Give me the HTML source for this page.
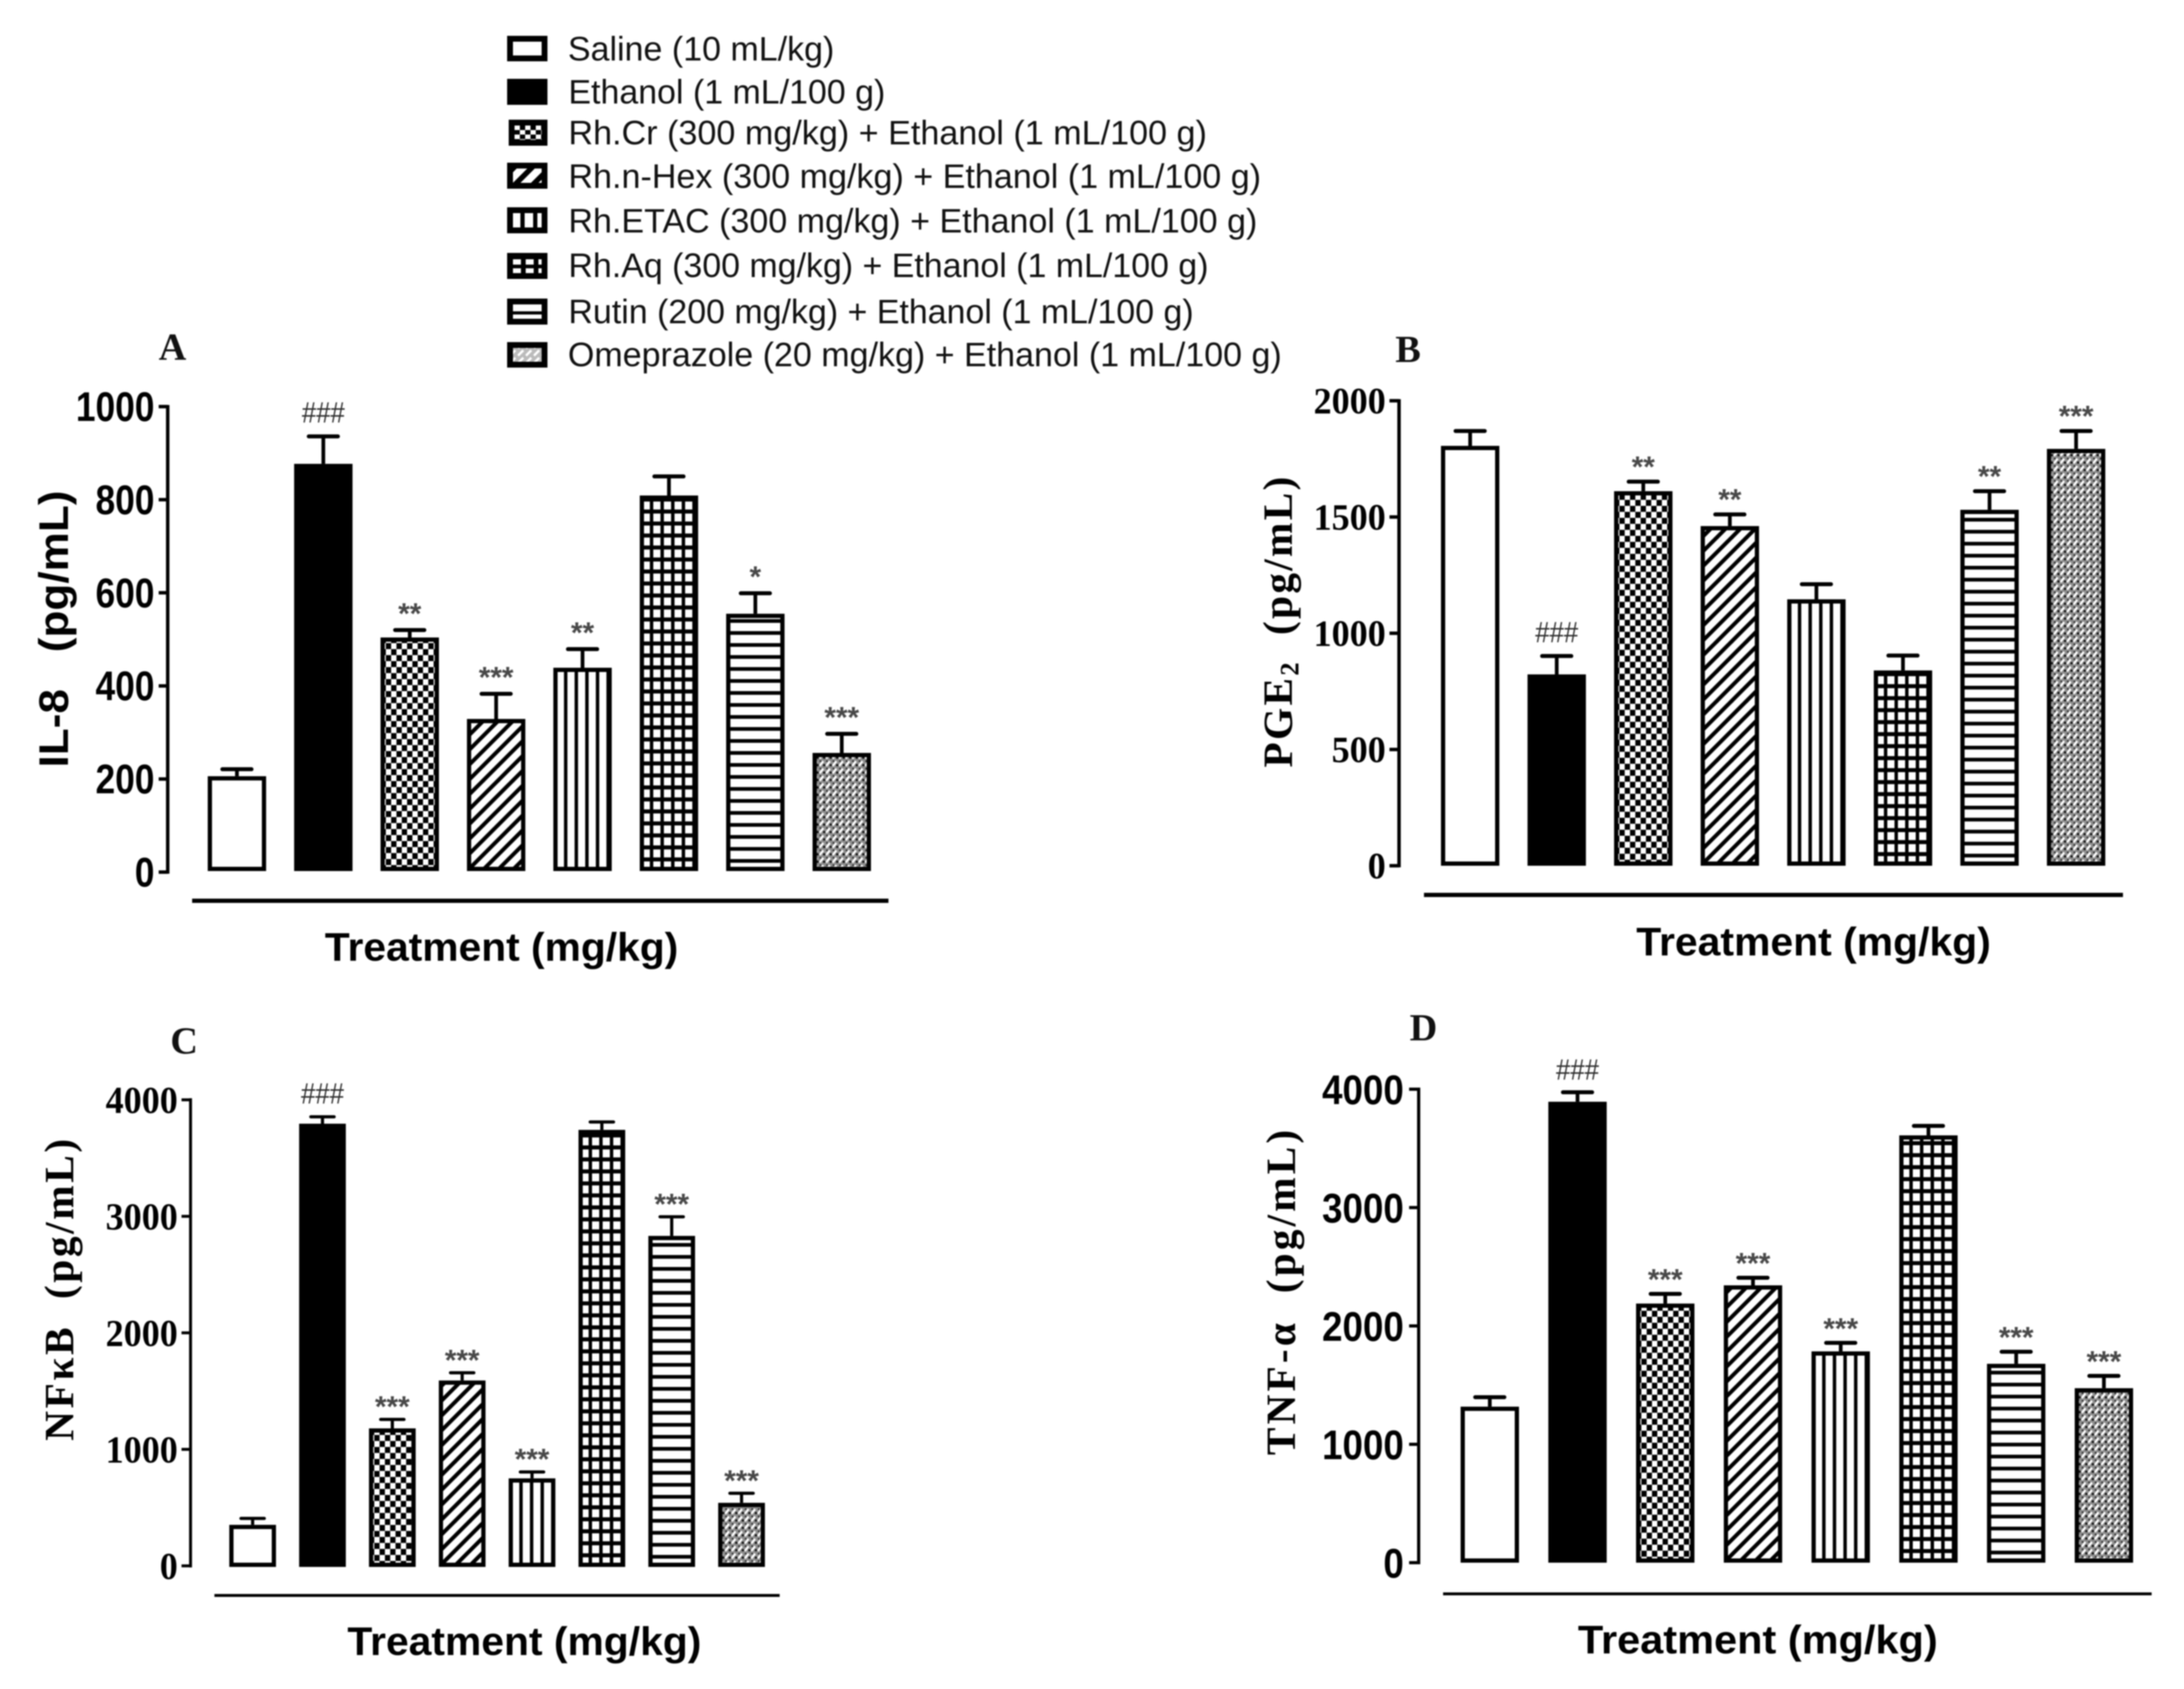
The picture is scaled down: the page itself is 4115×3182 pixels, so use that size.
<!DOCTYPE html>
<html lang="en">
<head>
<meta charset="utf-8">
<title>Cytokine and PGE2 levels by treatment</title>
<style>
html,body{margin:0;padding:0;background:#fff;width:4115px;height:3182px;overflow:hidden}
#figure{display:block;width:4115px;height:3182px;filter:blur(1.3px)}
text{white-space:pre}
.leg{font-family:"Liberation Sans",sans-serif;font-size:64px;fill:#111}
.xt{font-family:"Liberation Sans",sans-serif;font-weight:700;font-size:75px;fill:#000;text-anchor:middle}
.yts{font-family:"Liberation Sans",sans-serif;font-weight:700;font-size:78px;fill:#000;text-anchor:middle}
.ytr{font-family:"Liberation Serif",serif;font-weight:700;font-size:78px;fill:#000;text-anchor:middle}
.pl{font-family:"Liberation Serif",serif;font-weight:700;font-size:72px;fill:#111}
</style>
</head>
<body>
<svg id="figure" xmlns="http://www.w3.org/2000/svg" width="4115" height="3182" viewBox="0 0 4115 3182">
<defs>
<pattern id="pat-checker" patternUnits="userSpaceOnUse" width="20" height="22.6"><rect width="20" height="22.6" fill="#000"/><rect x="0" y="0" width="10" height="11.3" fill="#fff"/><rect x="10" y="11.3" width="10" height="11.3" fill="#fff"/></pattern>
<pattern id="pat-diag" patternUnits="userSpaceOnUse" width="28" height="28"><rect width="28" height="28" fill="#fff"/><path d="M-7 7L7 -7M-7 35L35 -7M21 35L35 21" stroke="#000" stroke-width="7.5"/></pattern>
<pattern id="pat-vert" patternUnits="userSpaceOnUse" width="20" height="20"><rect width="20" height="20" fill="#fff"/><rect x="0" width="6.5" height="20" fill="#000"/></pattern>
<pattern id="pat-grid" patternUnits="userSpaceOnUse" width="20" height="22.6"><rect width="20" height="22.6" fill="#000"/><rect x="5.5" y="4.5" width="13.5" height="15" fill="#fff"/></pattern>
<pattern id="pat-horiz" patternUnits="userSpaceOnUse" width="20" height="22.6"><rect width="20" height="22.6" fill="#fff"/><rect y="0" width="20" height="7" fill="#000"/></pattern>
<pattern id="pat-omep" patternUnits="userSpaceOnUse" width="12.3" height="14"><rect width="12.3" height="14" fill="#8e8e8e"/><path d="M1 12L8 3" stroke="#fff" stroke-width="4"/><circle cx="9.5" cy="10.5" r="2.3" fill="#111"/><circle cx="2.5" cy="3" r="1.6" fill="#222"/></pattern>
<pattern id="leg-checker" patternUnits="userSpaceOnUse" width="20" height="17" patternTransform="translate(969.5,236.5)"><rect width="20" height="17" fill="#000"/><rect x="0" y="0" width="10" height="8.5" fill="#fff"/><rect x="10" y="8.5" width="10" height="8.5" fill="#fff"/></pattern>
<pattern id="leg-diag" patternUnits="userSpaceOnUse" width="34" height="34" patternTransform="translate(966.5,317.5)"><rect width="34" height="34" fill="#fff"/><path d="M-8 8L8 -8M-8 42L42 -8M26 42L42 26" stroke="#000" stroke-width="10"/></pattern>
<pattern id="leg-vert" patternUnits="userSpaceOnUse" width="24" height="20" patternTransform="translate(966.5,401.5)"><rect width="24" height="20" fill="#fff"/><rect x="14" width="8" height="20" fill="#000"/></pattern>
<pattern id="leg-grid" patternUnits="userSpaceOnUse" width="24" height="17" patternTransform="translate(966.5,487.5)"><rect width="24" height="17" fill="#000"/><rect x="0" y="1" width="15" height="10" fill="#fff"/></pattern>
<pattern id="leg-horiz" patternUnits="userSpaceOnUse" width="20" height="20" patternTransform="translate(966.5,573.5)"><rect width="20" height="20" fill="#fff"/><rect y="13" width="20" height="6" fill="#000"/></pattern>
<pattern id="leg-omep" patternUnits="userSpaceOnUse" width="15" height="14"><rect width="15" height="14" fill="#bbb"/><path d="M1 12L11 2" stroke="#fff" stroke-width="4.5"/></pattern>
</defs>

<g id="legend">
  <g>
    <rect x="961" y="73" width="65" height="37" fill="#fff" stroke="#000" stroke-width="11"/>
    <text class="leg" x="1070" y="114" textLength="502" lengthAdjust="spacingAndGlyphs">Saline (10 mL/kg)</text>
  </g>
  <g>
    <rect x="961" y="154" width="65" height="38" fill="#000" stroke="#000" stroke-width="11"/>
    <text class="leg" x="1071" y="195" textLength="597" lengthAdjust="spacingAndGlyphs">Ethanol (1 mL/100 g)</text>
  </g>
  <g>
    <rect x="964" y="231" width="62" height="38" fill="url(#leg-checker)" stroke="#000" stroke-width="11"/>
    <text class="leg" x="1071" y="272" textLength="1203" lengthAdjust="spacingAndGlyphs">Rh.Cr (300 mg/kg) + Ethanol (1 mL/100 g)</text>
  </g>
  <g>
    <rect x="961" y="312" width="65" height="38" fill="url(#leg-diag)" stroke="#000" stroke-width="11"/>
    <text class="leg" x="1071" y="354" textLength="1305" lengthAdjust="spacingAndGlyphs">Rh.n-Hex (300 mg/kg) + Ethanol (1 mL/100 g)</text>
  </g>
  <g>
    <rect x="961" y="396" width="65" height="38" fill="url(#leg-vert)" stroke="#000" stroke-width="11"/>
    <text class="leg" x="1071" y="438" textLength="1298" lengthAdjust="spacingAndGlyphs">Rh.ETAC (300 mg/kg) + Ethanol (1 mL/100 g)</text>
  </g>
  <g>
    <rect x="961" y="482" width="65" height="38" fill="url(#leg-grid)" stroke="#000" stroke-width="11"/>
    <text class="leg" x="1071" y="522" textLength="1206" lengthAdjust="spacingAndGlyphs">Rh.Aq (300 mg/kg) + Ethanol (1 mL/100 g)</text>
  </g>
  <g>
    <rect x="961" y="568" width="65" height="38" fill="url(#leg-horiz)" stroke="#000" stroke-width="11"/>
    <text class="leg" x="1071" y="609" textLength="1178" lengthAdjust="spacingAndGlyphs">Rutin (200 mg/kg) + Ethanol (1 mL/100 g)</text>
  </g>
  <g>
    <rect x="961" y="650" width="65" height="37" fill="url(#leg-omep)" stroke="#000" stroke-width="11"/>
    <text class="leg" x="1070" y="690" textLength="1345" lengthAdjust="spacingAndGlyphs">Omeprazole (20 mg/kg) + Ethanol (1 mL/100 g)</text>
  </g>
</g>

<text class="pl" x="299" y="678">A</text>
<text class="pl" x="2629" y="682">B</text>
<text class="pl" x="321" y="1985">C</text>
<text class="pl" x="2656" y="1960">D</text>

<text class="yts" transform="translate(128,1185) rotate(-90)" textLength="522" lengthAdjust="spacingAndGlyphs">IL-8   (pg/mL)</text>
<text class="ytr" transform="translate(2434,1172) rotate(-90)" textLength="548" lengthAdjust="spacing">PGE<tspan dy="12" font-size="50">2</tspan><tspan dy="-12">  (pg/mL)</tspan></text>
<text class="ytr" transform="translate(138,2430) rotate(-90)" textLength="569" lengthAdjust="spacing">NFκB  (pg/mL)</text>
<text class="ytr" transform="translate(2440,2435) rotate(-90)" textLength="613" lengthAdjust="spacing">TNF-α  (pg/mL)</text>

<rect x="362" y="1693" width="1312" height="8" fill="#000"/>
<rect x="2683" y="1682" width="1317" height="8" fill="#000"/>
<rect x="404" y="3003" width="1065" height="5.5" fill="#000"/>
<rect x="2719" y="3000" width="1335" height="5.5" fill="#000"/>

<text class="xt" x="945" y="1810" textLength="666" lengthAdjust="spacingAndGlyphs">Treatment (mg/kg)</text>
<text class="xt" x="3417" y="1800" textLength="668" lengthAdjust="spacingAndGlyphs">Treatment (mg/kg)</text>
<text class="xt" x="988" y="3118" textLength="667" lengthAdjust="spacingAndGlyphs">Treatment (mg/kg)</text>
<text class="xt" x="3312" y="3115" textLength="678" lengthAdjust="spacingAndGlyphs">Treatment (mg/kg)</text>

<g id="plots"></g>
</svg>

<script>
const categories = ['saline', 'ethanol', 'rh-cr', 'rh-n-hex', 'rh-etac', 'rh-aq', 'rutin', 'omeprazole'];

const il8Means = [206, 877, 504, 329, 439, 809, 555, 256];
const il8Errors = [15, 59, 16, 54, 40, 41, 44, 41];
const il8Marks = ['', '###', '**', '***', '**', '', '*', '***'];
const il8Ticks = [0, 200, 400, 600, 800, 1000];

const pge2Means = [1806, 823, 1611, 1461, 1146, 840, 1531, 1793];
const pge2Errors = [64, 79, 41, 50, 65, 64, 80, 77];
const pge2Marks = ['', '###', '**', '**', '', '', '**', '***'];
const pge2Ticks = [0, 500, 1000, 1500, 2000];

const nfkbMeans = [352, 3795, 1180, 1591, 751, 3742, 2832, 541];
const nfkbErrors = [55, 59, 77, 66, 55, 68, 164, 82];
const nfkbMarks = ['', '###', '***', '***', '***', '', '***', '***'];
const nfkbTicks = [0, 1000, 2000, 3000, 4000];

const tnfMeans = [1318, 3894, 2189, 2343, 1785, 3610, 1680, 1474];
const tnfErrors = [80, 80, 82, 64, 72, 80, 102, 104];
const tnfMarks = ['', '###', '***', '***', '***', '', '***', '***'];
const tnfTicks = [0, 1000, 2000, 3000, 4000];

const fills = ['#fff', '#000', 'url(#pat-checker)', 'url(#pat-diag)', 'url(#pat-vert)', 'url(#pat-grid)', 'url(#pat-horiz)', 'url(#pat-omep)'];
const SANS = '"Liberation Sans", sans-serif';
const SERIF = '"Liberation Serif", serif';
const NS = 'http://www.w3.org/2000/svg';

function make(tag, attrs, parent) {
  const node = document.createElementNS(NS, tag);
  for (const key in attrs) node.setAttribute(key, attrs[key]);
  parent.appendChild(node);
  return node;
}

function drawPanel(p) {
  const root = document.getElementById('plots');
  const group = make('g', {}, root);
  
  

  const domainMax = Math.max.apply(null, p.ticks);
  const y = function (v) { return p.y0 - v * (p.y0 - p.yTop) / domainMax; };
  const x = function (i) { return p.x0 + p.step * i; };

  const axis = make('line', { x1: p.axisX, x2: p.axisX, y1: y(domainMax) - 3, y2: y(0) + 3, stroke: '#000', 'stroke-width': p.axisW }, group);
  
  

  p.ticks.forEach(function (t) {
    const tick = make('line', { x1: p.axisX - p.tickLen, x2: p.axisX, y1: y(t), y2: y(t), stroke: '#000', 'stroke-width': p.axisW }, group);
    
    
    const s = String(t);
    const label = make('text', {
      x: p.labelRight, y: y(t) + p.labelDy, 'text-anchor': 'end', 'font-family': p.tickFont, 'font-weight': 700,
      'font-size': p.tickSize, textLength: s.length * p.digitW, lengthAdjust: 'spacingAndGlyphs', fill: '#000'
    }, group);
    label.textContent = s;
    
    
  });

  categories.forEach(function (cat, i) {
    const cx = x(i);
    const top = y(p.means[i]);
    const errTop = y(p.means[i] + p.errors[i]);
    const bottom = y(0) + p.baseOff;

    const stem = make('line', { x1: cx, x2: cx, y1: top, y2: errTop, stroke: '#000', 'stroke-width': p.stemW }, group);
    
    
    const cap = make('line', { x1: cx - p.capW / 2, x2: cx + p.capW / 2, y1: errTop, y2: errTop, stroke: '#000', 'stroke-width': p.capT, 'stroke-linecap': 'round' }, group);
    
    

    const holder = make('g', { transform: 'translate(' + (cx - p.barW / 2) + ',' + bottom + ')' }, group);
    const h = bottom - top;
    const bar = make('rect', { x: p.sw / 2, y: -h + p.sw / 2, width: p.barW - p.sw, height: Math.max(h - p.sw, 0), fill: fills[i], stroke: '#000', 'stroke-width': p.sw }, holder);
    
    

    const mark = p.marks[i];
    if (mark) {
      const isHash = mark.charAt(0) === '#';
      const centerY = errTop - (isHash ? p.hashOff : p.starOff);
      const attrs = isHash
        ? { x: cx, y: centerY + 20, 'text-anchor': 'middle', 'font-family': SANS, 'font-size': 56, fill: '#2e2e2e', textLength: 81, lengthAdjust: 'spacingAndGlyphs' }
        : { x: cx, y: centerY + 25, 'text-anchor': 'middle', 'font-family': SANS, 'font-weight': 700, 'font-size': 56, fill: '#484848' };
      const sig = make('text', attrs, group);
      sig.textContent = mark;
      
      
    }
  });
}

drawPanel({ id: 'a', means: il8Means, errors: il8Errors, marks: il8Marks, ticks: il8Ticks,
  x0: 446.4, step: 162.8, barW: 110, sw: 8, y0: 1643, yTop: 766, baseOff: -2,
  axisX: 316, axisW: 6.5, tickLen: 17, labelRight: 291, labelDy: 27, tickFont: SANS, tickSize: 78, digitW: 37,
  stemW: 7, capW: 55, capT: 7.5, starOff: 37, hashOff: 46 });

drawPanel({ id: 'b', means: pge2Means, errors: pge2Errors, marks: pge2Marks, ticks: pge2Ticks,
  x0: 2770, step: 163.1, barW: 110, sw: 8, y0: 1631, yTop: 755, baseOff: 0,
  axisX: 2636, axisW: 6.5, tickLen: 18, labelRight: 2611, labelDy: 24, tickFont: SERIF, tickSize: 70, digitW: 34,
  stemW: 7, capW: 55, capT: 7.5, starOff: 34, hashOff: 46 });

drawPanel({ id: 'c', means: nfkbMeans, errors: nfkbErrors, marks: nfkbMarks, ticks: nfkbTicks,
  x0: 476, step: 131.6, barW: 88, sw: 8, y0: 2950, yTop: 2072, baseOff: 2,
  axisX: 359, axisW: 5.5, tickLen: 17, labelRight: 335, labelDy: 25, tickFont: SERIF, tickSize: 72, digitW: 34,
  stemW: 6, capW: 44, capT: 6, starOff: 30, hashOff: 45 });

drawPanel({ id: 'd', means: tnfMeans, errors: tnfErrors, marks: tnfMarks, ticks: tnfTicks,
  x0: 2807, step: 165.3, barW: 110, sw: 8, y0: 2944, yTop: 2052, baseOff: 0,
  axisX: 2673, axisW: 6, tickLen: 18, labelRight: 2645, labelDy: 28, tickFont: SANS, tickSize: 78, digitW: 38.5,
  stemW: 7, capW: 55, capT: 7.5, starOff: 33, hashOff: 44 });
</script>
</body>
</html>
